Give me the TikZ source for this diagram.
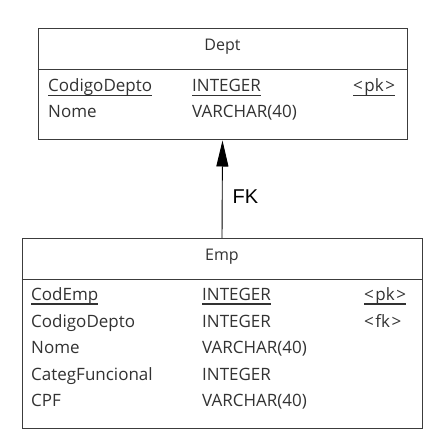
\documentclass[tikz,border=0pt]{standalone}
\usepackage{fontspec}
\setmainfont{Open Sans}
\newfontfamily\labelfont{Liberation Sans}
\usetikzlibrary{arrows.meta, positioning}
\definecolor{tableline}{RGB}{60,60,60}
\definecolor{tabletext}{RGB}{50,50,50}

% underlined key attribute, rule drawn through the descenders
\newcommand{\keyattr}[1]{\setbox0\hbox{#1}\rlap{\rule[-4.5pt]{\wd0}{1.1pt}}\box0}
\newcommand{\tagattr}[1]{<\kern1.5pt#1\kern1.5pt>}

\begin{document}
\begin{tikzpicture}[x=1pt, y=-1pt,
  table/.style={draw=tableline, line width=1pt, rectangle, inner sep=0pt},
  sepline/.style={draw=tableline, line width=0.8pt},
  title/.style={inner sep=0pt, font=\fontsize{16}{18}\selectfont, text=tabletext},
  attr/.style={anchor=base west, inner sep=0pt, font=\fontsize{17}{20}\selectfont, text=tabletext},
  fk/.style={draw=black, line width=0.9pt, -{Triangle[length=26pt, width=12pt]}}]
  \useasboundingbox (0,0) rectangle (431,438);

  % Dept table
  \node[table, minimum width=369pt, minimum height=111pt] (dept) at (222.5,84.5) {};
  \draw[sepline] ([yshift=-41pt]dept.north west) -- ([yshift=-41pt]dept.north east);
  \node[title] (deptTitle) at (222.5,47) {Dept};
  \node[attr] (deptCod) at (48,92) {\keyattr{CodigoDepto}};
  \node[attr] (deptCodType) at (192,92) {\keyattr{INTEGER}};
  \node[attr] (deptCodTag) at (353,92) {\keyattr{\tagattr{pk}}};
  \node[attr] (deptNome) at (48,118) {Nome};
  \node[attr] (deptNomeType) at (192,118) {VARCHAR(40)};

  % Emp table
  \node[table, minimum width=400pt, minimum height=190pt] (emp) at (222,333.5) {};
  \draw[sepline] ([yshift=-41pt]emp.north west) -- ([yshift=-41pt]emp.north east);
  \node[title] (empTitle) at (222,257) {Emp};
  \node[attr] (empCod) at (31,300) {\keyattr{CodEmp}};
  \node[attr] (empCodType) at (202,300) {\keyattr{INTEGER}};
  \node[attr] (empCodTag) at (364,300) {\keyattr{\tagattr{pk}}};
  \node[attr] (empDepto) at (31,327) {CodigoDepto};
  \node[attr] (empDeptoType) at (202,327) {INTEGER};
  \node[attr] (empDeptoTag) at (364,327) {\tagattr{fk}};
  \node[attr] (empNome) at (31,353) {Nome};
  \node[attr] (empNomeType) at (202,353) {VARCHAR(40)};
  \node[attr] (empCateg) at (31,380) {CategFuncional};
  \node[attr] (empCategType) at (202,380) {INTEGER};
  \node[attr] (empCpf) at (31,406) {CPF};
  \node[attr] (empCpfType) at (202,406) {VARCHAR(40)};

  % foreign key
  \draw[fk] (emp.north) -- node[pos=0.42, right=10pt, inner sep=0pt, font=\labelfont\fontsize{20}{22}\selectfont] (fkLabel) {FK} (dept.south);
\end{tikzpicture}
\end{document}
